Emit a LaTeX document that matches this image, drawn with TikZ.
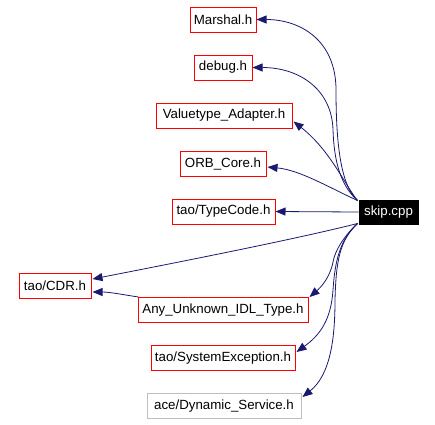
\documentclass[tikz,border=0pt]{standalone}
\usepackage{fontspec}
\setmainfont{Liberation Sans}
\usetikzlibrary{arrows.meta,calc}
\definecolor{edgeblue}{HTML}{191970}
\definecolor{boxred}{HTML}{FF0000}
\definecolor{boxgray}{HTML}{BFBFBF}
\begin{document}
\begin{tikzpicture}[x=1pt,y=-1pt,
  file/.style={draw=boxred,line width=1pt,minimum height=25pt,inner sep=0pt,
    font=\fontsize{13.3}{15}\selectfont,text=black},
  grayfile/.style={file,draw=boxgray},
  mainfile/.style={file,draw=black,fill=black,text=white},
  dep/.style={draw=edgeblue,line width=0.8pt,-{Triangle[length=10pt,width=8pt]}}]
\useasboundingbox (0,0) rectangle (435,424);
\node[file,minimum width=66pt] (marshal) at (223,19.5) {Marshal.h};
\node[file,minimum width=58pt] (debug) at (223,67.5) {debug.h};
\node[file,minimum width=136pt] (valuetype) at (224,115.5) {Valuetype\_Adapter.h};
\node[file,minimum width=86pt] (orbcore) at (223,164) {ORB\_Core.h};
\node[file,minimum width=103pt] (typecode) at (223.5,211.5) {tao/TypeCode.h};
\node[mainfile,minimum width=59pt,minimum height=24pt] (skip) at (388.5,212) {skip.cpp};
\node[file,minimum width=72pt] (cdr) at (55,286) {tao/CDR.h};
\node[file,minimum width=170pt] (any) at (223,310) {Any\_Unknown\_IDL\_Type.h};
\node[file,minimum width=144pt] (sysexc) at (223,358) {tao/SystemException.h};
\node[grayfile,minimum width=154pt] (dyn) at (224,406) {ace/Dynamic\_Service.h};

\draw[dep] ($(skip.north west)+(-1,1)$) .. controls (340,185) and (336,140) .. (336,90)
  .. controls (336,40) and (300,19.5) .. (marshal.east);
\draw[dep] ($(skip.north west)+(-1,1)$) .. controls (340,185) and (334,160) .. (333,130)
  .. controls (332,90) and (300,67.5) .. (debug.east);
\draw[dep] ($(skip.north west)+(-1,1)$) .. controls (345,185) and (330,150) .. ($(valuetype.east)+(1,6)$);
\draw[dep] ($(skip.north west)+(-1,1)$) .. controls (330,188) and (300,170) .. ($(orbcore.east)+(1,3)$);
\draw[dep] (skip.west) -- (typecode.east);
\draw[dep] ($(skip.south west)+(-1,-1)$) .. controls (300,238) and (200,258) .. ($(cdr.east)+(1,-7)$);
\draw[dep] ($(any.north west)+(1,0)$) .. controls (125,295) and (110,292) .. ($(cdr.east)+(1,6)$);
\draw[dep] ($(skip.south west)+(-1,-1)$) .. controls (345,235) and (335,250) .. (333,262)
  .. controls (330,278) and (320,288) .. ($(any.north east)+(1,0)$);
\draw[dep] ($(skip.south west)+(-1,-1)$) .. controls (340,240) and (335,260) .. (333,290)
  .. controls (331,320) and (320,335) .. ($(sysexc.east)+(1,-6)$);
\draw[dep] ($(skip.south west)+(-1,-1)$) .. controls (340,240) and (336,260) .. (335,300)
  .. controls (335,340) and (330,375) .. ($(dyn.east)+(1,-9)$);
\end{tikzpicture}
\end{document}
